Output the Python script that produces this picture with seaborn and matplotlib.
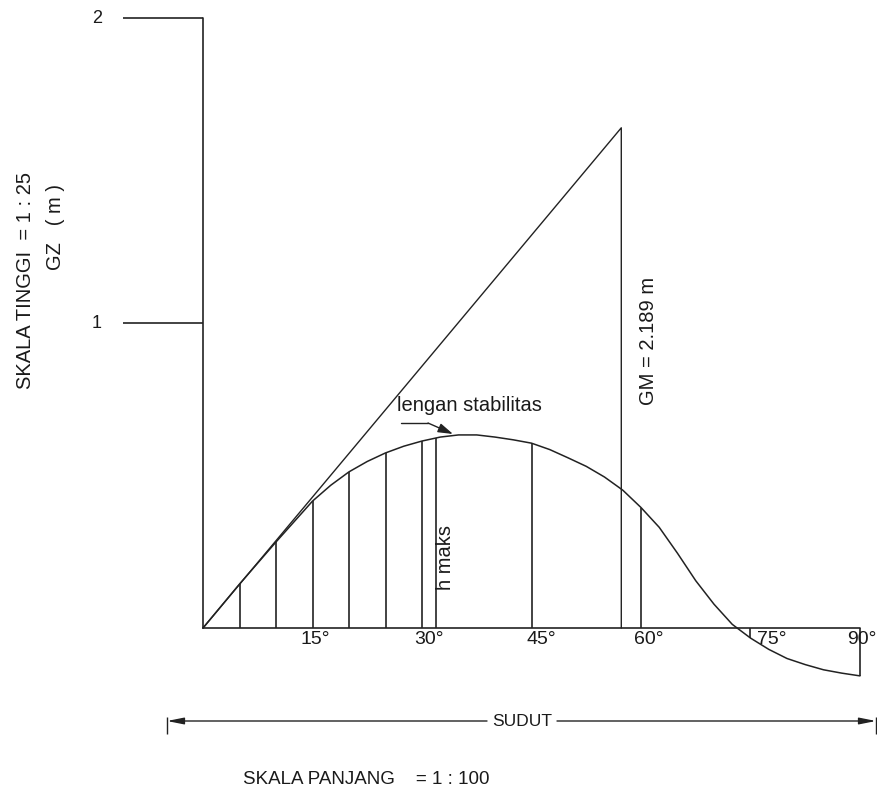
import numpy as np
import pandas as pd
import matplotlib
matplotlib.use("Agg")
import matplotlib.pyplot as plt
import seaborn as sns
from matplotlib import font_manager as fm

# ---- data ----
angles = [0, 5, 10, 15, 17.5, 20, 22.5, 25, 27.5, 30, 32.5, 35, 37.5, 40, 42.5, 45, 47.5, 50,
          52.5, 55, 57.5, 60, 62.5, 65, 67.5, 70, 72.5, 75, 77.5, 80, 82.5, 85, 87.5, 90]
gz = [0.0, 0.144, 0.282, 0.416, 0.468, 0.512, 0.546, 0.574, 0.596, 0.613, 0.626, 0.633, 0.633,
      0.626, 0.617, 0.606, 0.585, 0.558, 0.530, 0.495, 0.452, 0.395, 0.330, 0.245, 0.155, 0.078,
      0.012, -0.033, -0.070, -0.100, -0.120, -0.137, -0.148, -0.157]
ordinate_angles = [5, 10, 15, 20, 25, 30, 45, 60, 75, 90]
hmax_angle = 31.9
gm_angle = 57.3
gm_top = 1.64
y_ticks = [1, 2]
deg_label_angles = [15, 30, 45, 60, 75, 90]
deg_labels = ["15°", "30°", "45°", "60°", "75°", "90°"]

# ---- style ----
sns.set_theme(style="white")
names = {f.name for f in fm.fontManager.ttflist}
plt.rcParams["font.family"] = ["Liberation Sans", "DejaVu Sans"]
narrow = "Liberation Sans Narrow" if "Liberation Sans Narrow" in names else "Liberation Sans"
LC = "#222222"
TC = "#1a1a1a"
LW = 1.2

# pixel -> data helpers (layout only)
X0, PXD = 203.0, 7.3
Y0, PYU = 628.0, 305.0
def px(p):
    return (p - X0) / PXD
def py(p):
    return (Y0 - p) / PYU

fig = plt.figure(figsize=(8.78, 7.89), dpi=100)
ax = fig.add_axes([0, 0, 1, 1])
ax.set_xlim(px(0), px(878))
ax.set_ylim(py(789), py(0))
ax.axis("off")

# stability curve
df = pd.DataFrame({"angle": angles, "gz": gz})
sns.lineplot(data=df, x="angle", y="gz", ax=ax, color=LC, lw=1.1, sort=False, estimator=None)

# ordinates
heights = np.interp(ordinate_angles, angles, gz)
ax.vlines(ordinate_angles, 0, heights, color=LC, lw=LW)
ax.vlines(hmax_angle, 0, np.interp(hmax_angle, angles, gz), color=LC, lw=LW)

# GM tangent triangle
ax.plot([0, gm_angle, gm_angle], [0, gm_top, 0], color=LC, lw=1.0)

# axes lines
ax.plot([0, 90], [0, 0], color=LC, lw=LW)
ax.plot([0, 0], [0, max(y_ticks)], color=LC, lw=LW)
ax.hlines(y_ticks, px(123), 0, color=LC, lw=LW)
for t in y_ticks:
    ax.text(px(97), t, str(t), ha="center", va="center", fontsize=13, color=TC)

# degree labels
offsets = {15: 0.4, 30: 0.9, 45: 1.3, 60: 1.0, 75: 2.9, 90: 0.3}
for a, lab in zip(deg_label_angles, deg_labels):
    ax.text(a + offsets[a], py(640), lab, ha="center", va="center", fontsize=14, color=TC)

# annotations
ax.text(px(397), py(411), "lengan stabilitas", ha="left", va="baseline", fontsize=14.5, color=TC)
ax.plot([px(401), px(428)], [py(423), py(423)], color=LC, lw=1.0)
ax.annotate("", xy=(px(453), py(434)), xytext=(px(428), py(423)),
            arrowprops=dict(arrowstyle="-|>,head_length=0.9,head_width=0.28", color=LC, lw=1.0,
                            shrinkA=0, shrinkB=0, mutation_scale=10))
ax.text(px(446), py(557), "h maks", rotation=90, ha="center", va="center", fontsize=14.5, color=TC)
ax.text(px(648), py(341), "GM = 2.189 m", rotation=90, ha="center", va="center", fontsize=14.5, color=TC)

ax.text(px(25), py(280), "SKALA TINGGI  = 1 : 25", rotation=90, ha="center", va="center",
        fontsize=14.5, color=TC)
ax.text(px(55), py(227), "GZ   ( m )", rotation=90, ha="center", va="center", fontsize=14.5, color=TC)

# SUDUT dimension line
yd = py(721)
ax.annotate("", xy=(px(167), yd), xytext=(px(487), yd),
            arrowprops=dict(arrowstyle="-|>,head_length=1.0,head_width=0.2", color=LC, lw=1.0,
                            shrinkA=0, shrinkB=0, mutation_scale=10))
ax.annotate("", xy=(px(876), yd), xytext=(px(557), yd),
            arrowprops=dict(arrowstyle="-|>,head_length=1.0,head_width=0.2", color=LC, lw=1.0,
                            shrinkA=0, shrinkB=0, mutation_scale=10))
ax.vlines([px(167), px(876)], py(734), py(717), color=LC, lw=1.0)
ax.text(px(522), yd, "SUDUT", ha="center", va="center", fontsize=12.5, color=TC, family=[narrow, "DejaVu Sans"])

ax.text(px(243), py(784), "SKALA PANJANG    = 1 : 100", ha="left", va="baseline", fontsize=13.5,
        color=TC, family=[narrow, "DejaVu Sans"])

fig.savefig("out.png", dpi=100)
